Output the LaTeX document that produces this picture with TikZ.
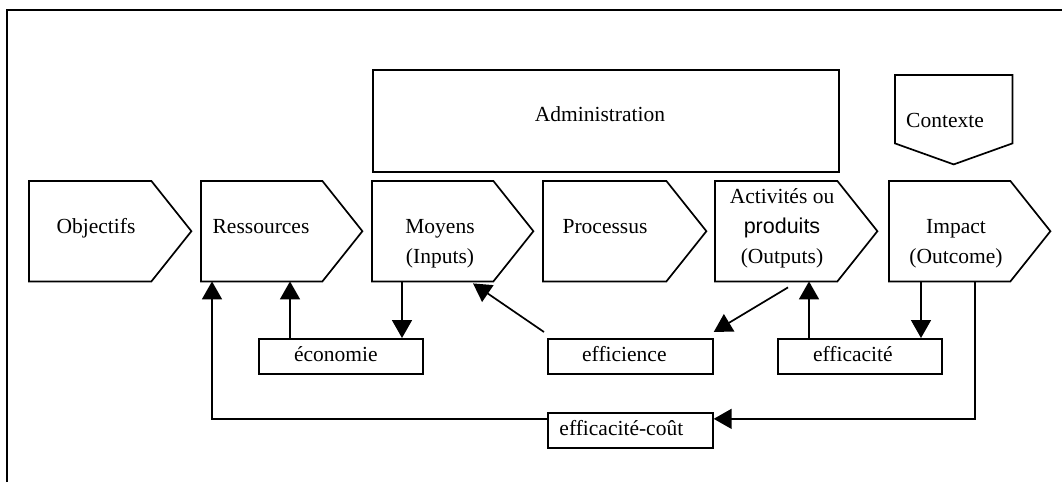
\documentclass[tikz,border=0pt]{standalone}
\usepackage{fontspec}
\setmainfont{Liberation Serif}
\newfontfamily\arialf{Liberation Sans}
\usetikzlibrary{arrows.meta}
\newcommand\pentabox[3]{% name, left x, tip x
  \node[hold, minimum width={(#3-#2)*1pt}, minimum height=100pt] (#1) at (#2,181) {};
  \draw[shapeline] (#1.north west) -- ([xshift=-40pt]#1.north east) -- (#1.east)
    -- ([xshift=-40pt]#1.south east) -- (#1.south west) -- cycle;
}
\begin{document}
\begin{tikzpicture}[x=1pt,y=-1pt]
\tikzset{
  hold/.style={draw=none, rectangle, inner sep=0pt, anchor=north west},
  shapeline/.style={draw=black, line width=1.7pt, line join=miter},
  lbl/.style={font=\fontsize{21.5}{30}\selectfont, inner sep=0pt, align=center, anchor=base},
  smallbox/.style={draw, line width=1.7pt, rectangle, inner sep=0pt, minimum height=35pt,
    anchor=north west, font=\fontsize{21.5}{30}\selectfont, text height=14.5pt, text depth=4.5pt},
  arr/.style={-{Triangle[length=18pt,width=20pt]}, line width=1.7pt},
  framel/.style={line width=1.9pt}
}
\useasboundingbox (0,0) rectangle (1062,482);
% frame
\draw[framel] (7,482) -- (7,10) -- (1062,10);

% pentagons
\pentabox{obj}{29}{191}
\pentabox{res}{201}{362}
\pentabox{moy}{372}{533}
\pentabox{pro}{543}{706}
\pentabox{act}{715}{877}
\pentabox{imp}{889}{1050}

% labels (anchor=base gives the baseline of the last line)
\node[lbl] (obj-t) at (96,233) {Objectifs};
\node[lbl] (res-t) at (261,233) {Ressources};
\node[lbl] (moy-t) at (440,263) {Moyens\\(Inputs)};
\node[lbl] (pro-t) at (605,233) {Processus};
\node[lbl] (act-t) at (782,263) {Activités ou\\{\arialf produits}\\(Outputs)};
\node[lbl] (imp-t) at (956,263) {Impact\\(Outcome)};

% Administration
\node[hold, draw, line width=1.7pt, minimum width=466pt, minimum height=102pt] (adm) at (372,69) {};
\node[lbl] (adm-t) at (600,121) {Administration};

% Contexte
\node[hold, minimum width=117pt, minimum height=89pt] (ctx) at (895,75) {};
\draw[shapeline] (ctx.north west) -- (ctx.north east) -- ([yshift=21pt]ctx.south east)
  -- (ctx.south) -- ([yshift=21pt]ctx.south west) -- cycle;
\node[lbl] (ctx-t) at (945,127) {Contexte};

% small boxes
\node[smallbox, minimum width=164pt] (eco) at (258,338) {\hspace{-10pt}économie};
\node[smallbox, minimum width=165pt] (eff) at (547,338) {\hspace{-12pt}efficience};
\node[smallbox, minimum width=164pt] (efc) at (777,338) {\hspace{-14pt}efficacité};
\node[smallbox, minimum width=165pt] (ecc) at (547,412) {\hspace{-18pt}efficacité-coût};

% connectors
\draw[arr] ([yshift=11.5pt]ecc.west) -| ([xshift=11pt]res.south west);
\draw[arr] ([xshift=32pt]eco.north west) -- ([xshift=32pt]eco.north west |- res.south);
\draw[arr] ([xshift=30pt]moy.south west) -- ([xshift=30pt]moy.south west |- eco.north);
\draw[arr] ([shift={(-3pt,6pt)}]eff.north west) -- ([shift={(101pt,-2pt)}]moy.south west);
\draw[arr] ([shift={(73pt,-6pt)}]act.south west) -- ([shift={(0pt,6pt)}]eff.north east);
\draw[arr] ([xshift=32pt]efc.north west) -- ([xshift=32pt]efc.north west |- act.south);
\draw[arr] ([xshift=32pt]imp.south west) -- ([xshift=32pt]imp.south west |- efc.north);
\draw[arr] ([xshift=86pt]imp.south west) |- ([yshift=11.5pt]ecc.east);
\end{tikzpicture}
\end{document}
